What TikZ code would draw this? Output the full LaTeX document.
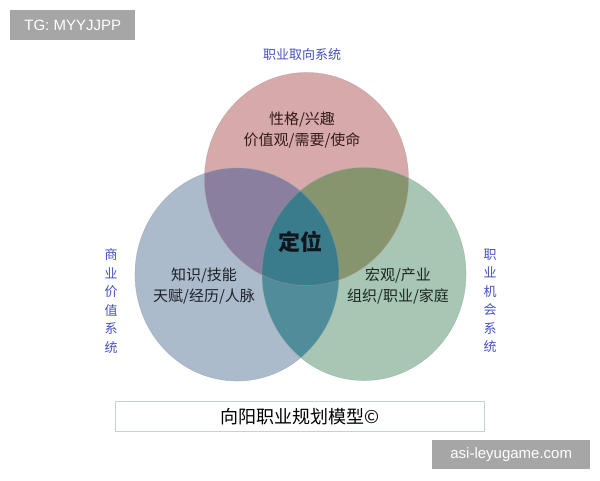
\documentclass[tikz,border=0pt]{standalone}
\usepackage{fontspec}
\setmainfont{Liberation Sans}
\newfontfamily\cjk{Noto Sans CJK SC}
\usetikzlibrary{calc}
\definecolor{topc}{RGB}{214,170,171}
\definecolor{leftc}{RGB}{171,187,203}
\definecolor{rightc}{RGB}{167,198,180}
\definecolor{tlc}{RGB}{138,127,158}
\definecolor{trc}{RGB}{135,149,111}
\definecolor{lrc}{RGB}{79,141,155}
\definecolor{cenc}{RGB}{58,124,140}
\definecolor{lblblue}{RGB}{70,80,190}
\definecolor{wmgray}{RGB}{166,166,166}
\definecolor{boxedge}{RGB}{190,212,216}
\tikzset{
  lbl/.style={font=\cjk\fontsize{13}{18.5}\selectfont, text=lblblue, inner sep=0pt, align=center},
  body/.style={font=\cjk\fontsize{15}{21}\selectfont, inner sep=0pt, align=center},
  wm/.style={fill=wmgray, text=white, font=\fontsize{15}{18}\selectfont, inner sep=0pt},
  ell/.style={x radius=102, y radius=106.5}
}
\begin{document}
\begin{tikzpicture}[x=1pt,y=-1pt]
\useasboundingbox (0,0) rectangle (600,480);
\fill[white] (0,0) rectangle (600,480);
\coordinate (T) at (306.5,179);
\coordinate (L) at (237,274.5);
\coordinate (R) at (364,274);
% base circles
\fill[topc] (T) ellipse [ell];
\fill[leftc] (L) ellipse [ell];
\fill[rightc] (R) ellipse [ell];
% pairwise overlaps
\begin{scope}\clip (T) ellipse [ell]; \fill[tlc] (L) ellipse [ell];\end{scope}
\begin{scope}\clip (T) ellipse [ell]; \fill[trc] (R) ellipse [ell];\end{scope}
\begin{scope}\clip (L) ellipse [ell]; \fill[lrc] (R) ellipse [ell];\end{scope}
\begin{scope}\clip (L) ellipse [ell]; \clip (R) ellipse [ell]; \fill[cenc] (T) ellipse [ell];\end{scope}
% soft edges
\draw[topc!85!black, line width=0.6pt, opacity=0.5] (T) ellipse [ell];
\draw[leftc!85!black, line width=0.6pt, opacity=0.5] (L) ellipse [ell];
\draw[rightc!85!black, line width=0.6pt, opacity=0.5] (R) ellipse [ell];
% texts
\node[lbl] (ttitle) at (302,55) {职业取向系统};
\node[lbl] (ltitle) at (111,301) {商\\业\\价\\值\\系\\统};
\node[lbl] (rtitle) at (490,301) {职\\业\\机\\会\\系\\统};
\node[body, text={rgb,255:red,55;green,25;blue,28}] (ttext) at (302,130) {性格/兴趣\\价值观/需要/使命};
\node[body, text={rgb,255:red,30;green,32;blue,42}] (ltext) at (204,286) {知识/技能\\天赋/经历/人脉};
\node[body, text={rgb,255:red,28;green,38;blue,30}] (rtext) at (398,286) {宏观/产业\\组织/职业/家庭};
\node[font=\cjk\bfseries\fontsize{22}{24}\selectfont, text={rgb,255:red,15;green,22;blue,30}, inner sep=0pt] (center) at (300,242) {定位};
% bottom title box
\node[draw=boxedge, line width=1.5pt, fill=white, minimum width=369, minimum height=30, inner sep=0pt,
      font=\cjk\fontsize{18}{20}\selectfont] (model) at (300,416.5) {向阳职业规划模型©};
% watermarks
\node[wm, minimum width=125, minimum height=30, anchor=north west] (tg) at (10,10) {TG: MYYJJPP};
\node[wm, minimum width=158, minimum height=29, anchor=north west] (site) at (432,440) {asi-leyugame.com};
\end{tikzpicture}
\end{document}
